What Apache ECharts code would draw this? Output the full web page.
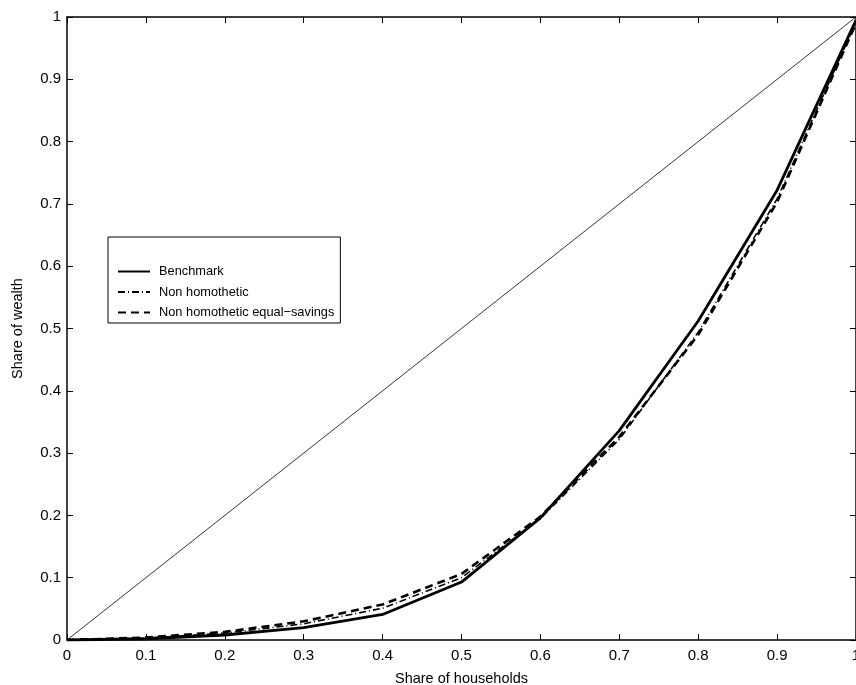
<!DOCTYPE html>
<html>
<head>
<meta charset="utf-8">
<script src="https://cdn.jsdelivr.net/npm/echarts@6/dist/echarts.min.js"></script>
<style>html,body{margin:0;padding:0;background:#fff;}#c{width:856px;height:685px;}</style>
</head>
<body>
<div id="c"></div>
<script>
const shareHouseholds = [0, 0.1, 0.2, 0.3, 0.4, 0.5, 0.6, 0.7, 0.8, 0.9, 1.0];
const benchmark = [0, 0.002, 0.008, 0.020, 0.041, 0.093, 0.196, 0.336, 0.512, 0.722, 0.995];
const nonHomothetic = [0, 0.003, 0.011, 0.026, 0.051, 0.100, 0.195, 0.322, 0.494, 0.708, 0.992];
const nonHomotheticEqualSavings = [0, 0.004, 0.013, 0.030, 0.057, 0.106, 0.198, 0.326, 0.490, 0.703, 0.990];
const equality = [0, 1];
const equalityX = [0, 1];
const xTicks = ['0','0.1','0.2','0.3','0.4','0.5','0.6','0.7','0.8','0.9','1'];
const yTicks = ['0','0.1','0.2','0.3','0.4','0.5','0.6','0.7','0.8','0.9','1'];
const seriesNames = ['Benchmark', 'Non homothetic', 'Non homothetic equal\u2212savings'];

const pairs = (xs, ys) => xs.map((x, i) => [x, ys[i]]);
const font = 'Liberation Sans, Arial, Helvetica, sans-serif';

const chart = echarts.init(document.getElementById('c'));
const axisBase = {
  type: 'value', min: 0, max: 1, interval: 0.1,
  splitLine: { show: false },
  axisLine: { show: true, onZero: false, lineStyle: { color: '#000', width: 1.5 } },
  axisTick: { show: true, inside: true, length: 6, lineStyle: { color: '#000', width: 1 } }
};
chart.setOption({
  animation: false,
  backgroundColor: '#fff',
  grid: { left: 67, top: 17, right: 0, bottom: 45, containLabel: false, outerBoundsMode: 'none' },
  xAxis: [
    Object.assign({}, axisBase, {
      position: 'bottom',
      name: 'Share of households', nameLocation: 'middle', nameGap: 31,
      nameTextStyle: { fontFamily: font, fontSize: 14.5, color: '#000' },
      axisLabel: { fontFamily: font, fontSize: 15, color: '#000', margin: 8,
        formatter: v => xTicks[Math.round(v * 10)] }
    }),
    Object.assign({}, axisBase, { position: 'top', axisLabel: { show: false } })
  ],
  yAxis: [
    Object.assign({}, axisBase, {
      position: 'left',
      name: 'Share of wealth', nameLocation: 'middle', nameGap: 42, nameRotate: 90,
      nameTextStyle: { fontFamily: font, fontSize: 14.5, color: '#000' },
      axisLabel: { fontFamily: font, fontSize: 15, color: '#000', margin: 6,
        formatter: v => yTicks[Math.round(v * 10)] }
    }),
    Object.assign({}, axisBase, { position: 'right', axisLabel: { show: false } })
  ],
  legend: {
    orient: 'vertical', left: 108, top: 237,
    data: seriesNames,
    backgroundColor: '#fff', borderColor: '#000', borderWidth: 1, borderRadius: 0,
    padding: [28, 6, 4, 9],
    itemWidth: 32, itemHeight: 14, itemGap: 7.5,
    itemStyle: { opacity: 0, borderWidth: 0 },
    textStyle: { fontFamily: font, fontSize: 12.8, color: '#000', padding: [0, 0, 0, 4] }
  },
  series: [
    { type: 'line', name: 'equality', data: pairs(equalityX, equality), showSymbol: false, symbol: 'none',
      lineStyle: { color: '#000', width: 0.8 }, silent: true, z: 1 },
    { type: 'line', name: seriesNames[0], data: pairs(shareHouseholds, benchmark), symbol: 'none',
      lineStyle: { color: '#000', width: 2.8, type: 'solid' }, itemStyle: { color: '#000' }, z: 3 },
    { type: 'line', name: seriesNames[1], data: pairs(shareHouseholds, nonHomothetic), symbol: 'none',
      lineStyle: { color: '#000', width: 1.6, type: [7, 3, 1, 3] }, itemStyle: { color: '#000' }, z: 2 },
    { type: 'line', name: seriesNames[2], data: pairs(shareHouseholds, nonHomotheticEqualSavings), symbol: 'none',
      lineStyle: { color: '#000', width: 2.6, type: [8, 5] }, itemStyle: { color: '#000' }, z: 2 }
  ]
});
</script>
</body>
</html>
